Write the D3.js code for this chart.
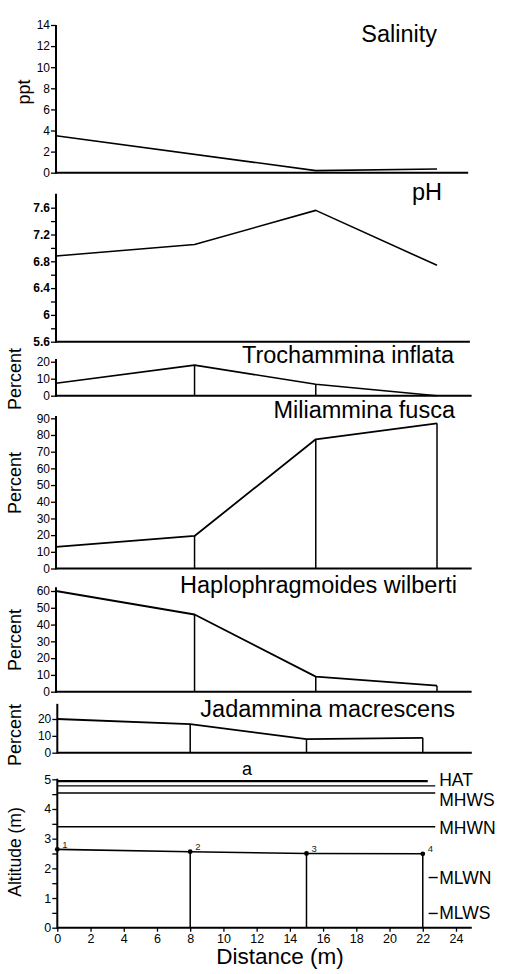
<!DOCTYPE html>
<html><head><meta charset="utf-8">
<script src="https://cdn.jsdelivr.net/npm/d3@7"></script>
<style>
html,body{margin:0;padding:0;background:#fff;}
svg{display:block;font-family:"Liberation Sans",Arial,sans-serif;}
</style></head>
<body><svg id="c" width="505" height="974"></svg>
<script>
// ---------- data ----------
const stations = [0, 8, 15, 22];
const salinityDist = [0, 15, 22];
const salinity = [3.5, 0.2, 0.35];
const pH = [6.88, 7.05, 7.56, 6.74];
const trochammina = [7.3, 18, 6.7, 0];
const miliammina = [13, 19.5, 77.4, 87];
const haplophragmoides = [60, 46, 9, 3.6];
const jadammina = [20, 16.9, 8.1, 8.8];
const altitude = [2.64, 2.56, 2.5, 2.49];
const stationLabels = ["1", "2", "3", "4"];
const tideNames = ["HAT", "MHWS", "MHWN", "MLWN", "MLWS"];
const tideLevels = [4.94, 4.54, 3.4, 1.69, 0.48];
const extraTideLine = [4.78];
const salTicks = [0, 2, 4, 6, 8, 10, 12, 14];
const pHTicks = [5.6, 6, 6.4, 6.8, 7.2, 7.6];
const pHMinor = [5.8, 6.2, 6.6, 7.0, 7.4];
const distTicks = [0, 2, 4, 6, 8, 10, 12, 14, 16, 18, 20, 22, 24];
const altTicks = [0, 1, 2, 3, 4, 5];
const altMinor = [0.5, 1.5, 2.5, 3.5, 4.5];

// ---------- drawing ----------
const svg = d3.select("#c");
const xTop = d3.scaleLinear().domain([0, 22]).range([56, 437]);
const xBot = d3.scaleLinear().domain([0, 24]).range([57.3, 456]);
const FONT = '"Liberation Sans",Arial,sans-serif';

function yAxis(g, y, x0, ticks, minor, fs, weight, fmt) {
  const ax = d3.axisLeft(y).tickValues(ticks).tickSize(5).tickPadding(1).tickSizeOuter(0)
    .tickFormat(fmt || (d => d));
  const a = g.append("g").attr("transform", `translate(${x0},0)`).call(ax);
  a.select(".domain").remove();
  a.selectAll("line").attr("stroke", "#000").attr("stroke-width", 1.3);
  a.selectAll("text").attr("font-size", fs).attr("font-weight", weight || "normal")
    .attr("fill", "#000").attr("font-family", FONT);
  if (minor) {
    const m = g.append("g").attr("transform", `translate(${x0},0)`)
      .call(d3.axisLeft(y).tickValues(minor).tickSize(5).tickFormat("").tickSizeOuter(0));
    m.select(".domain").remove();
    m.selectAll("line").attr("stroke", "#000").attr("stroke-width", 1.3);
  }
}

function frame(g, x, y, yAxisTopVal, xEndVal) {
  const d0 = y.domain()[0];
  g.append("line").attr("x1", x(0)).attr("x2", x(0))
    .attr("y1", y(d0) + 1).attr("y2", y(yAxisTopVal))
    .attr("stroke", "#000").attr("stroke-width", 2);
  g.append("line").attr("x1", x(0)).attr("x2", x(xEndVal))
    .attr("y1", y(d0)).attr("y2", y(d0))
    .attr("stroke", "#000").attr("stroke-width", 2);
}

function title(g, text, xr, yb, fs) {
  g.append("text").attr("x", xr).attr("y", yb).attr("text-anchor", "end")
    .attr("font-size", fs || 23.5).text(text);
}
function vTitle(g, text, tx, cy, fs) {
  g.append("text").attr("transform", `translate(${tx},${cy}) rotate(-90)`)
    .attr("text-anchor", "middle").attr("font-size", fs || 18).text(text);
}

function dataLine(g, x, y, xs, vs, w) {
  g.append("path").datum(xs.map((d, i) => [d, vs[i]]))
    .attr("d", d3.line().x(d => x(d[0])).y(d => y(d[1])))
    .attr("fill", "none").attr("stroke", "#000").attr("stroke-width", w || 1.6)
    .attr("stroke-linejoin", "round");
}
function verticals(g, x, y, xs, vs) {
  xs.forEach((d, i) => {
    if (i === 0 || vs[i] <= 0) return;
    g.append("line").attr("x1", x(d)).attr("x2", x(d)).attr("y1", y(0)).attr("y2", y(vs[i]))
      .attr("stroke", "#000").attr("stroke-width", 1.5);
  });
}

// Salinity
{
  const g = svg.append("g");
  const y = d3.scaleLinear().domain([0, 14]).range([172.7, 25]);
  frame(g, xTop, y, 14, 23.8);
  yAxis(g, y, xTop(0), salTicks, null, 12);
  dataLine(g, xTop, y, salinityDist, salinity);
  title(g, "Salinity", 437, 41.5);
  vTitle(g, "ppt", 29.5, 92, 18);
}
// pH
{
  const g = svg.append("g");
  const y = d3.scaleLinear().domain([5.6, 7.6]).range([341.7, 207.7]);
  frame(g, xTop, y, 7.81, 23.9);
  yAxis(g, y, xTop(0), pHTicks, pHMinor, 12, "bold", d => d3.format("")(+d.toFixed(1)));
  dataLine(g, xTop, y, stations, pH);
  title(g, "pH", 442, 200);
}
// Trochammina
{
  const g = svg.append("g");
  const y = d3.scaleLinear().domain([0, 20]).range([395.7, 361.7]);
  frame(g, xTop, y, 21.6, 24);
  yAxis(g, y, xTop(0), [0, 10, 20], null, 12);
  verticals(g, xTop, y, stations, trochammina);
  dataLine(g, xTop, y, stations, trochammina);
  title(g, "Trochammina inflata", 454, 362.5);
  vTitle(g, "Percent", 21, 379);
}
// Miliammina
{
  const g = svg.append("g");
  const y = d3.scaleLinear().domain([0, 90]).range([568.5, 418.3]);
  frame(g, xTop, y, 91.4, 24);
  yAxis(g, y, xTop(0), d3.range(0, 91, 10), null, 12);
  verticals(g, xTop, y, stations, miliammina);
  dataLine(g, xTop, y, stations, miliammina, 1.8);
  title(g, "Miliammina fusca", 455, 418);
  vTitle(g, "Percent", 21, 483);
}
// Haplophragmoides
{
  const g = svg.append("g");
  const y = d3.scaleLinear().domain([0, 60]).range([691.7, 591]);
  frame(g, xTop, y, 62.2, 24);
  yAxis(g, y, xTop(0), d3.range(0, 61, 10), null, 12);
  verticals(g, xTop, y, stations, haplophragmoides);
  dataLine(g, xTop, y, stations, haplophragmoides, 1.8);
  title(g, "Haplophragmoides wilberti", 457, 593);
  vTitle(g, "Percent", 21, 640);
}
// Jadammina
{
  const g = svg.append("g");
  const y = d3.scaleLinear().domain([0, 20]).range([752.7, 719]);
  frame(g, xBot, y, 29, 24.95);
  yAxis(g, y, xBot(0), [0, 10, 20], null, 12);
  verticals(g, xBot, y, stations, jadammina);
  dataLine(g, xBot, y, stations, jadammina, 1.8);
  title(g, "Jadammina macrescens", 455, 716.5);
  vTitle(g, "Percent", 21, 735);
}
// Altitude profile
{
  const g = svg.append("g");
  const y = d3.scaleLinear().domain([0, 5]).range([927.7, 779.3]);
  // tide lines
  g.append("line").attr("x1", xBot(0)).attr("x2", xBot(22.3)).attr("y1", y(tideLevels[0])).attr("y2", y(tideLevels[0]))
    .attr("stroke", "#000").attr("stroke-width", 2.4);
  [extraTideLine[0], tideLevels[1], tideLevels[2]].forEach(v => {
    g.append("line").attr("x1", xBot(0)).attr("x2", xBot(22.75)).attr("y1", y(v)).attr("y2", y(v))
      .attr("stroke", "#000").attr("stroke-width", 1.4);
  });
  [tideLevels[3], tideLevels[4]].forEach(v => {
    g.append("line").attr("x1", xBot(22.35)).attr("x2", xBot(22.9)).attr("y1", y(v)).attr("y2", y(v))
      .attr("stroke", "#000").attr("stroke-width", 1.4);
  });
  const nudge = [-1, 7, 1, 0, -1];
  tideNames.forEach((n, i) => {
    g.append("text").attr("x", xBot(22.9) + 1.5).attr("y", y(tideLevels[i]) + nudge[i])
      .attr("dy", "0.36em").attr("font-size", 17.5).text(n);
  });
  frame(g, xBot, y, 5.02, 24.95);
  yAxis(g, y, xBot(0), altTicks, altMinor, 12.5);
  const xa = g.append("g").attr("transform", `translate(0,${y(0)})`)
    .call(d3.axisBottom(xBot).tickValues(distTicks).tickSize(4).tickPadding(2).tickSizeOuter(0));
  xa.select(".domain").remove();
  xa.selectAll("line").attr("stroke", "#000").attr("stroke-width", 1.3);
  xa.selectAll("text").attr("font-size", 12.5).attr("fill", "#000").attr("font-family", FONT);
  verticals(g, xBot, y, stations, altitude);
  dataLine(g, xBot, y, stations, altitude, 1.6);
  stations.forEach((d, i) => {
    g.append("circle").attr("cx", xBot(d)).attr("cy", y(altitude[i])).attr("r", 2.4).attr("fill", "#000");
    g.append("text").attr("x", xBot(d) + 5).attr("y", y(altitude[i]) - 1.5)
      .attr("font-size", 9.5).attr("fill", "#222").text(stationLabels[i]);
  });
  g.append("text").attr("x", 247).attr("y", 775).attr("text-anchor", "middle")
    .attr("font-size", 18).text("a");
  g.append("text").attr("x", 280).attr("y", 964).attr("text-anchor", "middle")
    .attr("font-size", 22.5).text("Distance (m)");
  vTitle(g, "Altitude (m)", 21, 852, 17.5);
}
</script></body></html>
